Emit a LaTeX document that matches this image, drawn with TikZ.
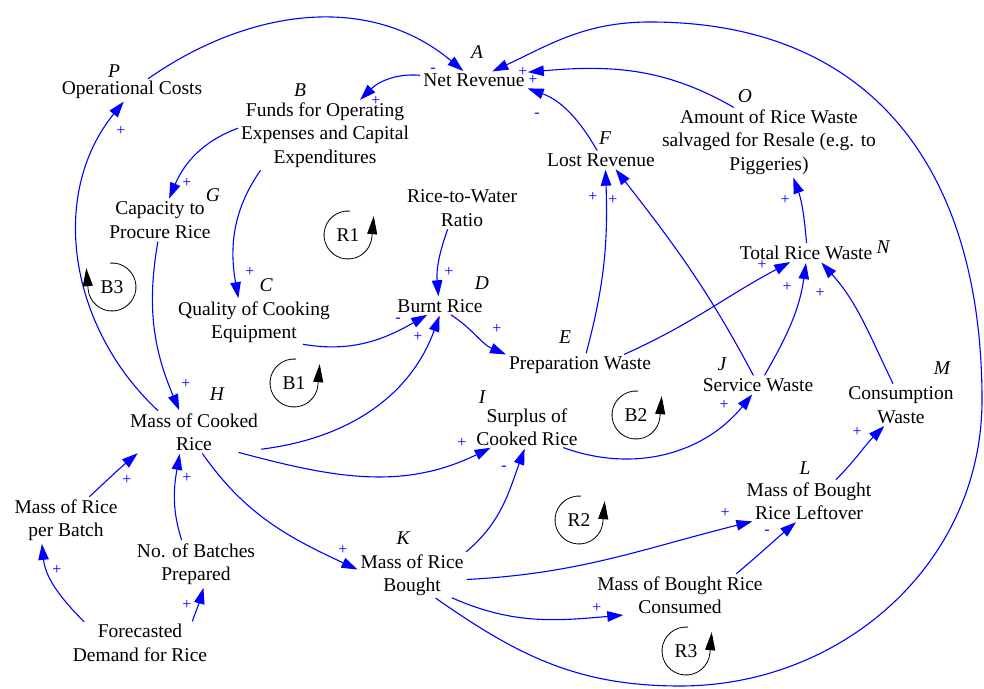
\documentclass[tikz,border=0pt]{standalone}
\usepackage{fontspec}
\setmainfont{Liberation Serif}
\usetikzlibrary{arrows.meta}

\begin{document}
\begin{tikzpicture}[x=1pt, y=1pt,
  var/.style={align=center, inner sep=1pt, font=\fontsize{19.5}{23.5}\selectfont},
  lbl/.style={inner sep=0pt, font=\fontsize{19.5}{23.5}\selectfont\itshape},
  sgn/.style={text=blue, inner sep=0pt, font=\fontsize{16}{16}\selectfont},
  link/.style={draw=blue, line width=1.1pt, -{Triangle[length=16pt,width=10.5pt]}, shorten >=2pt, shorten <=2pt},
  loopsym/.style={draw=black, line width=0.8pt, -{Triangle[length=18pt,width=10pt]}}]
\useasboundingbox (0,0) rectangle (984,688);

\node[var] (A) at (474,608) {Net Revenue};
\node[var] (B) at (325,553) {Funds for Operating\\Expenses and Capital\\Expenditures};
\node[var] (P) at (132,598) {Operational Costs};
\node[var] (G) at (160,468) {Capacity to\\Procure Rice};
\node[var] (C) at (254,366) {Quality of Cooking\\Equipment};
\node[var] (D) at (440,382) {Burnt Rice};
\node[var] (E) at (580,323) {Preparation Waste};
\node[var] (F) at (601,528) {Lost Revenue};
\node[var] (O) at (769,546) {Amount of Rice Waste\\salvaged for Resale (e.g. to\\Piggeries)};
\node[var] (N) at (806,435) {Total Rice Waste};
\node[var] (W) at (462,480) {Rice-to-Water\\Ratio};
\node[var] (H) at (194,256) {Mass of Cooked\\Rice};
\node[var] (I) at (527,261) {Surplus of\\Cooked Rice};
\node[var] (J) at (758,303) {Service Waste};
\node[var] (M) at (901,283) {Consumption\\Waste};
\node[var] (L) at (809,187) {Mass of Bought\\Rice Leftover};
\node[var] (K) at (412,113) {Mass of Rice\\Bought};
\node[var] (MC) at (680,93) {Mass of Bought Rice\\Consumed};
\node[var] (MB) at (66,168) {Mass of Rice\\per Batch};
\node[var] (NB) at (196,124) {No. of Batches\\Prepared};
\node[var] (FD) at (140,45) {Forecasted\\Demand for Rice};

\node[lbl] (lA) at (477,636) {A};
\node[lbl] (lB) at (300,598) {B};
\node[lbl] (lP) at (114,617) {P};
\node[lbl] (lG) at (213,493) {G};
\node[lbl] (lC) at (266,403) {C};
\node[lbl] (lD) at (482,405) {D};
\node[lbl] (lE) at (565,351) {E};
\node[lbl] (lF) at (605,550) {F};
\node[lbl] (lO) at (745,592) {O};
\node[lbl] (lN) at (883,441) {N};
\node[lbl] (lH) at (217,294) {H};
\node[lbl] (lI) at (482,291) {I};
\node[lbl] (lJ) at (722,324) {J};
\node[lbl] (lM) at (942,320) {M};
\node[lbl] (lL) at (805,220) {L};
\node[lbl] (lK) at (403,150) {K};

\coordinate (kaB) at (680,2);
\coordinate (kaR) at (982,288);
\coordinate (kaT) at (650,666);

\draw[link] (P.35) to[out=35,in=140] (A.140);
\draw[link] (A.175) to[out=175,in=45] (B.45);
\draw[link] (B.175) to[out=200,in=67] (G.67);
\draw[link] (B.208) to[out=235,in=100] (C.125);
\draw[link] (G.265) to[out=260,in=113] (H.125);
\draw[link] (H.150) to[out=137,in=231] (P.235);
\draw[link] (C.335) to[out=350,in=210] (D.215);
\draw[link] (W.235) to[out=250,in=95] (D.100);
\draw[link] (H.345) to[out=7,in=250] (D.272);
\draw[link] (D.320) to[out=327,in=157] (E.north west);
\draw[link] (E.60) to[out=75,in=272] (F.300);
\draw[link] (J.115) to[out=118,in=308] (F.330);
\draw[link] (F.110) to[out=120,in=340] (A.south east);
\draw[link] (O.135) to[out=150,in=5] (A.north east);
\draw[link] (K.315) to[out=325,in=180] (kaB) to[out=0,in=270] (kaR) to[out=90,in=0,looseness=1.15] (kaT) to[out=180,in=25] (A.25);
\draw[link] (H.335) to[out=345,in=206] (I.210);
\draw[link] (H.290) to[out=305,in=155] (K.175);
\draw[link] (K.north east) to[out=40,in=250] (I.265);
\draw[link] (I.330) to[out=340,in=231] (J.240);
\draw[link] (E.13) to[out=24,in=208] (N.210);
\draw[link] (J.55) to[out=60,in=262] (N.272);
\draw[link] (M.110) to[out=116,in=312] (N.330);
\draw[link] (N.85) to[out=95,in=290] (O.305);
\draw[link] (L.38) to[out=45,in=225] (M.232);
\draw[link] (K.355) to[out=3,in=194] (L.200);
\draw[link] (MC.20) to[out=40,in=220] (L.240);
\draw[link] (K.330) to[out=336,in=185] (MC.200);
\draw[link] (MB.45) to[out=43,in=220] (H.200);
\draw[link] (NB.122) to[out=108,in=260] (H.235);
\draw[link] (FD.21) to[out=70,in=255] (NB.290);
\draw[link] (FD.160) to[out=135,in=276] (MB.222);

\node[sgn] (sPA) at (433,618) {-};
\node[sgn] (sAB) at (376,587) {+};
\node[sgn] (sBG) at (187,505) {+};
\node[sgn] (sBC) at (250,416) {+};
\node[sgn] (sGH) at (186,304) {+};
\node[sgn] (sHP) at (121,557) {+};
\node[sgn] (sCD) at (398,368) {-};
\node[sgn] (sWD) at (449,416) {+};
\node[sgn] (sHD) at (418,351) {+};
\node[sgn] (sDE) at (497,359) {+};
\node[sgn] (sEF) at (593,491) {+};
\node[sgn] (sJF) at (613,488) {+};
\node[sgn] (sFA) at (537,573) {-};
\node[sgn] (sOA) at (533,608) {+};
\node[sgn] (sKA) at (523,616) {+};
\node[sgn] (sHI) at (462,245) {+};
\node[sgn] (sHK) at (343,138) {+};
\node[sgn] (sKI) at (504,220) {-};
\node[sgn] (sIJ) at (724,283) {+};
\node[sgn] (sEN) at (762,423) {+};
\node[sgn] (sJN) at (787,401) {+};
\node[sgn] (sMN) at (820,395) {+};
\node[sgn] (sNO) at (785,488) {+};
\node[sgn] (sLM) at (857,256) {+};
\node[sgn] (sKL) at (725,175) {+};
\node[sgn] (sCL) at (767,156) {-};
\node[sgn] (sKC) at (597,80) {+};
\node[sgn] (sBH) at (127,208) {+};
\node[sgn] (sNH) at (187,210) {+};
\node[sgn] (sFN) at (187,83) {+};
\node[sgn] (sFB) at (57,118) {+};

\node[var] (R1) at (348,453) {R1};
\node[var] (R2) at (579,168) {R2};
\node[var] (R3) at (686,37) {R3};
\node[var] (B1) at (294,305) {B1};
\node[var] (B2) at (636,273) {B2};
\node[var] (B3) at (112,401) {B3};
\draw[loopsym] (R1.center) ++(85:24) arc[start angle=85, end angle=355, radius=24] -- ++(85:21);
\draw[loopsym] (R2.center) ++(85:24) arc[start angle=85, end angle=355, radius=24] -- ++(85:21);
\draw[loopsym] (R3.center) ++(85:24) arc[start angle=85, end angle=355, radius=24] -- ++(85:21);
\draw[loopsym] (B1.center) ++(85:24) arc[start angle=85, end angle=355, radius=24] -- ++(85:21);
\draw[loopsym] (B2.center) ++(85:24) arc[start angle=85, end angle=355, radius=24] -- ++(85:21);
\draw[loopsym] (B3.center) ++(95:24) arc[start angle=95, end angle=-175, radius=24] -- ++(95:21);
\end{tikzpicture}
\end{document}
